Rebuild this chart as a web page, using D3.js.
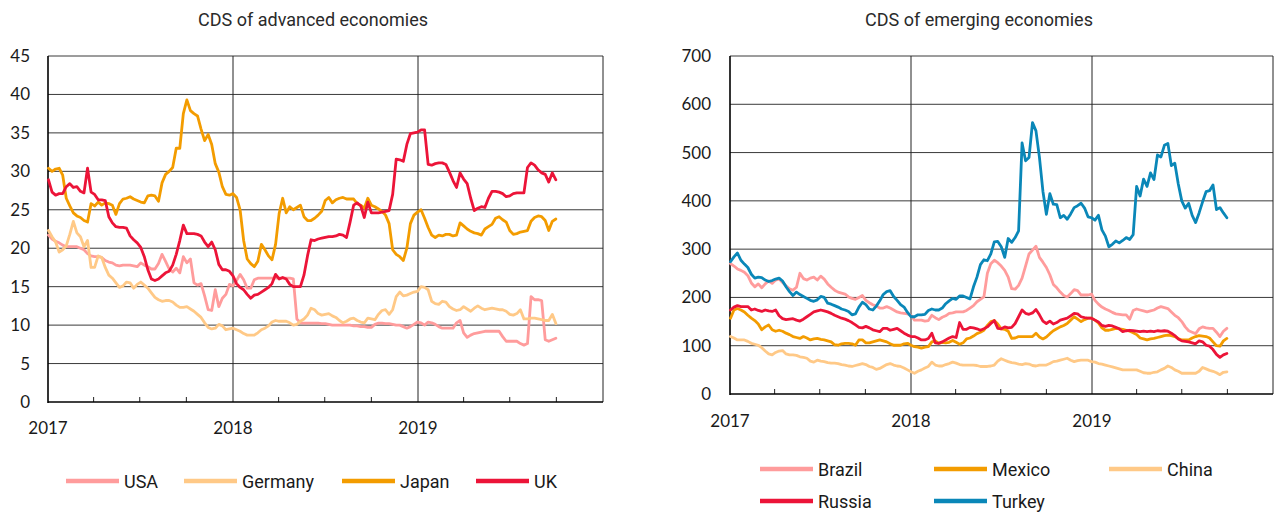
<!DOCTYPE html>
<html lang="en">
<head>
<meta charset="UTF-8">
<title>CDS of advanced and emerging economies</title>
<script src="https://d3js.org/d3.v7.min.js"></script>
<style>
  body { margin: 0; background: #fff; }
  text { fill: #1a1a1a; }
  .title { font-family: Roboto, "Open Sans", sans-serif; font-size: 18px; fill: #2a2a2a; }
  .tick-label { font-family: Lato, "Open Sans", sans-serif; font-size: 17px; }
  .legend { font-family: Roboto, "Open Sans", sans-serif; font-size: 18px; }
</style>
</head>
<body>
<svg id="main" width="1274" height="514"></svg>
<script>
// weekly observations (Mondays), 2 Jan 2017 .. 30 Sep 2019
const dates = d3.range(144).map(k => d3.timeDay.offset(new Date(2017, 0, 2), 7 * k));

// advanced economies (bp)
const usa = [
  21.7,21.2,20.9,20.7,20.4,20.2,20.2,20.2,20.2,20.0,
  19.8,19.3,19.0,18.9,18.9,18.8,18.4,18.2,18.1,17.8,
  17.7,17.8,17.8,17.8,17.7,17.6,18.1,17.8,17.6,17.3,
  17.3,18.0,19.2,18.3,17.3,16.9,17.4,16.8,18.9,18.1,
  18.6,15.5,15.2,15.4,13.8,12.0,11.9,14.6,12.4,13.5,
  14.0,15.3,15.1,15.8,16.6,15.9,14.8,14.8,15.9,16.1,
  16.1,16.1,16.1,16.1,16.1,16.1,16.1,16.1,16.1,16.0,
  10.8,10.3,10.25,10.25,10.25,10.25,10.25,10.2,10.2,10.1,
  10.0,10.0,10.0,10.0,10.0,10.0,9.9,9.9,9.8,9.8,
  9.7,9.7,10.1,10.25,10.25,10.2,10.2,10.1,10.0,10.0,
  9.8,9.6,9.8,10.1,10.4,10.3,10.0,10.4,10.3,10.1,
  9.8,9.6,9.6,9.6,9.6,10.3,10.6,9.0,8.4,8.7,
  8.9,9.0,9.1,9.2,9.2,9.2,9.2,9.2,8.5,7.9,
  7.9,7.9,7.9,7.6,7.4,7.6,13.7,13.3,13.3,13.2,
  8.1,7.9,8.1,8.3];
const germany = [
  22.3,21.5,20.8,19.5,19.8,20.3,21.8,23.5,22.0,21.5,
  20.2,21.0,17.5,17.5,19.0,18.8,17.5,16.5,16.1,15.5,
  14.9,15.1,15.6,15.5,14.8,15.3,15.6,15.2,14.8,14.2,
  13.6,13.3,13.1,13.2,13.2,13.0,12.6,12.3,12.3,12.4,
  12.1,11.8,11.4,11.0,10.3,9.7,9.5,9.6,10.1,9.9,
  9.4,9.5,9.6,9.4,9.2,8.9,8.7,8.7,8.7,9.0,
  9.4,9.6,9.9,10.4,10.6,10.5,10.5,10.5,10.3,10.0,
  10.1,10.5,10.8,11.3,12.2,12.0,11.5,11.3,11.4,11.5,
  11.2,11.0,10.6,10.3,10.5,10.8,10.9,10.6,10.4,10.3,
  10.9,10.8,10.7,11.4,11.9,12.0,11.4,12.0,13.7,14.3,
  13.8,13.9,14.1,14.3,14.4,15.0,14.9,14.6,13.1,12.8,
  12.7,13.1,13.0,12.4,12.1,11.9,12.0,12.4,12.1,11.8,
  12.2,12.5,12.2,12.0,12.1,12.2,12.1,12.0,12.0,11.8,
  11.4,11.3,11.5,12.0,10.8,10.8,10.9,10.9,10.8,10.7,
  10.6,10.6,11.4,10.2];
const japan = [
  30.4,30.0,30.3,30.4,29.5,26.5,25.5,24.6,24.2,24.0,
  23.6,23.4,25.8,25.5,26.0,25.6,25.9,25.8,25.6,24.4,
  25.8,26.4,26.5,26.7,26.4,26.2,26.0,25.9,26.8,26.9,
  26.8,26.1,28.5,29.6,30.0,30.5,33.0,33.0,37.5,39.3,
  37.9,37.5,37.2,35.5,34.0,34.8,33.5,31.0,29.9,28.0,
  27.0,26.9,27.1,26.6,25.0,21.0,18.6,18.0,17.6,18.3,
  20.5,19.8,19.0,18.5,20.5,24.5,26.5,24.6,25.4,25.0,
  25.3,25.6,24.1,23.6,23.6,23.9,24.3,24.8,26.2,26.6,
  25.9,26.3,26.5,26.6,26.4,26.4,26.4,25.8,25.6,25.2,
  26.5,25.6,25.4,25.1,24.8,24.3,23.2,19.8,19.2,18.9,
  18.4,20.0,23.2,24.3,24.7,25.0,23.9,22.7,21.7,21.4,
  21.7,21.6,21.8,21.8,21.6,21.7,23.3,22.9,22.5,22.2,
  22.0,21.9,21.7,22.5,22.8,23.1,23.9,24.1,23.7,23.4,
  22.3,21.8,21.9,22.1,22.2,22.3,23.5,24.0,24.2,24.1,
  23.6,22.3,23.5,23.8];
const uk = [
  28.9,27.3,26.9,27.1,27.1,28.0,28.4,27.9,28.0,27.4,
  27.2,30.4,27.3,27.0,26.3,26.3,26.2,24.1,23.3,22.8,
  22.7,22.7,22.6,21.6,21.1,20.7,20.1,18.9,17.2,16.0,
  15.8,16.0,16.4,16.8,17.0,17.8,19.2,21.0,23.0,21.9,
  21.9,21.9,21.8,21.6,20.8,20.2,20.8,19.8,17.9,17.2,
  17.2,17.0,16.4,15.4,14.9,14.6,14.0,13.5,13.9,14.0,
  14.3,14.6,14.9,15.4,16.6,16.0,16.2,16.0,15.3,15.0,
  15.0,15.0,16.5,19.0,21.1,21.0,21.2,21.3,21.4,21.5,
  21.5,21.6,21.8,21.7,21.4,23.4,25.6,25.9,25.5,24.0,
  26.0,24.6,24.6,24.6,24.7,24.8,24.9,27.0,31.6,31.5,
  31.3,33.5,34.9,35.0,35.1,35.4,35.4,30.9,30.8,31.0,
  31.1,31.1,30.9,29.9,28.8,27.9,29.8,29.0,28.4,26.5,
  24.9,25.2,25.4,25.3,26.5,27.4,27.4,27.3,27.1,26.7,
  26.8,27.1,27.2,27.2,27.2,30.5,31.1,30.8,30.2,29.8,
  29.6,28.6,29.8,28.9];

// emerging economies (bp)
const brazil = [
  270,265,259,256,252,245,230,222,228,220,
  228,234,229,236,238,231,224,218,215,221,
  250,239,236,240,242,236,244,238,228,221,
  215,211,209,207,201,198,196,200,204,194,
  189,185,182,178,178,181,178,174,170,168,
  167,166,163,153,153,153,151,152,163,158,
  154,159,162,167,168,170,170,170,173,178,
  183,191,196,201,250,270,277,272,265,256,
  242,218,217,225,240,265,290,298,306,283,
  273,262,247,227,220,211,204,201,208,216,
  214,205,205,205,207,194,186,180,176,173,
  169,166,165,164,164,155,173,176,174,172,
  170,172,174,178,181,179,177,170,163,158,
  150,139,131,128,125,135,139,137,136,136,
  128,119,130,136];
const mexico = [
  157,174,177,174,170,163,157,152,145,133,
  139,143,133,130,132,130,126,123,119,117,
  115,119,116,112,114,115,113,112,110,108,
  102,101,104,105,105,104,101,112,112,106,
  106,108,110,112,110,108,104,101,101,101,
  104,105,101,98,97,95,97,98,108,110,
  105,107,106,107,111,107,103,106,114,116,
  120,125,128,132,142,150,152,145,135,134,
  130,115,116,119,119,119,119,119,126,118,
  114,118,125,131,135,139,142,146,153,160,
  155,150,154,157,157,153,147,137,132,132,
  134,136,135,134,132,130,127,123,116,114,
  112,114,115,117,119,121,122,121,119,115,
  112,112,112,116,119,121,120,119,116,108,
  100,99,110,115];
const china = [
  119,116,112,112,112,109,105,103,101,96,
  89,83,81,86,89,90,83,81,81,80,
  77,76,74,68,66,70,68,67,65,64,
  64,63,61,60,58,57,59,61,63,61,
  57,55,51,53,57,61,63,60,58,57,
  54,50,46,43,47,50,54,57,66,60,
  58,58,61,63,66,64,61,60,60,60,
  60,59,57,57,57,58,60,68,73,70,
  67,65,64,62,61,63,62,59,58,60,
  60,60,63,67,68,70,72,74,70,67,
  69,70,70,70,67,66,63,62,60,58,
  56,54,52,50,50,50,50,50,47,44,
  43,43,45,46,50,53,58,55,50,47,
  43,43,43,43,43,47,55,52,49,47,
  44,40,45,46];
const russia = [
  174,180,183,181,181,181,174,176,173,171,
  174,172,171,174,162,156,154,155,156,153,
  151,155,160,165,170,172,174,172,170,167,
  163,160,157,155,152,148,143,138,137,140,
  137,133,131,129,136,136,132,134,136,131,
  126,122,119,119,116,112,112,115,126,106,
  105,108,112,116,119,117,148,134,134,138,
  137,135,132,135,139,146,152,136,135,139,
  137,138,146,160,174,167,165,168,175,164,
  151,146,151,145,148,153,155,157,162,167,
  166,160,158,157,157,153,149,142,140,142,
  141,138,135,129,131,132,131,130,129,130,
  129,130,129,131,130,131,130,126,121,114,
  110,109,108,106,104,110,108,101,99,92,
  82,76,81,84];
const turkey = [
  274,284,292,277,269,262,248,240,242,241,
  236,233,235,238,240,234,222,212,204,211,
  206,202,198,194,192,195,202,200,188,186,
  183,180,176,174,171,164,166,180,190,185,
  176,174,182,193,206,212,214,202,194,185,
  180,169,160,160,164,164,165,173,176,174,
  174,178,187,193,198,196,203,203,200,197,
  222,242,268,278,276,290,315,316,305,283,
  322,314,324,338,520,483,490,562,545,490,
  420,372,415,393,392,365,370,362,373,386,
  390,395,385,367,365,360,370,340,327,305,
  310,317,313,318,324,320,330,430,410,445,
  430,458,444,495,491,515,519,473,478,435,
  400,385,395,370,355,375,398,419,421,433,
  382,386,375,365];

const yearLabels = ['2017', '2018', '2019'];

const colPink = '#ff9c9c', colLight = '#ffc987', colOrange = '#f39c00', colRed = '#ec1438', colBlue = '#0a87b8';

const svg = d3.select('svg#main');

function drawPanel(p) {
  const g = svg.append('g');
  const x = d3.scaleTime().domain([new Date(2017, 0, 1), new Date(2020, 0, 1)]).range([p.x0, p.x1]);
  const y = d3.scaleLinear().domain([0, p.yMax]).range([p.y1, p.y0]);
  const yTicks = d3.range(0, p.yMax + 1, p.yStep);

  // horizontal grid (top one is the frame)
  g.selectAll('line.h').data(yTicks.filter(v => v > 0)).join('line')
    .attr('x1', p.x0).attr('x2', p.x1)
    .attr('y1', d => y(d)).attr('y2', d => y(d))
    .attr('stroke', '#3a3a3a').attr('stroke-width', 1);

  // vertical year lines + right frame
  const years = x.ticks(d3.timeYear.every(1));
  g.selectAll('line.v').data(years.slice(1)).join('line')
    .attr('x1', d => x(d)).attr('x2', d => x(d))
    .attr('y1', p.y0).attr('y2', p.y1)
    .attr('stroke', '#222').attr('stroke-width', 1);

  // quarter ticks
  const quarters = d3.timeMonth.range(new Date(2017, 3, 1), new Date(2019, 10, 1), 3)
    .filter(d => d.getMonth() !== 0);
  g.selectAll('line.q').data(quarters).join('line')
    .attr('x1', d => x(d)).attr('x2', d => x(d))
    .attr('y1', p.y1).attr('y2', p.y1 - 5)
    .attr('stroke', '#222').attr('stroke-width', 1);

  // axes lines
  g.append('line').attr('x1', p.x0).attr('x2', p.x0).attr('y1', p.y0).attr('y2', p.y1 + 1)
    .attr('stroke', '#000').attr('stroke-width', 1.6);
  g.append('line').attr('x1', p.x0).attr('x2', p.x1).attr('y1', p.y1).attr('y2', p.y1)
    .attr('stroke', '#000').attr('stroke-width', 1.6);

  // y labels
  g.selectAll('text.yl').data(yTicks).join('text')
    .attr('class', 'tick-label')
    .attr('x', p.labelX).attr('y', d => y(d) + 6)
    .attr('text-anchor', 'end')
    .text(d => d);

  // year labels
  g.selectAll('text.xl').data(years.slice(0, 3)).join('text')
    .attr('class', 'tick-label')
    .attr('x', d => x(d)).attr('y', p.yearY)
    .attr('text-anchor', 'middle')
    .text((d, i) => yearLabels[i]);

  // title
  g.append('text').attr('class', 'title')
    .attr('x', p.titleX).attr('y', 26).attr('text-anchor', 'middle')
    .text(p.title);

  // series
  const line = d3.line().x((d, i) => x(dates[i])).y(d => y(d));
  p.series.forEach(s => {
    g.append('path').datum(s.values)
      .attr('d', line)
      .attr('fill', 'none')
      .attr('stroke', s.color)
      .attr('stroke-width', 2.8)
      .attr('stroke-linejoin', 'round')
      .attr('stroke-linecap', 'round');
  });

  // legend
  p.legend.forEach(l => {
    g.append('line').attr('x1', l.x).attr('x2', l.x + 53).attr('y1', l.y).attr('y2', l.y)
      .attr('stroke', l.color).attr('stroke-width', 4.5);
    g.append('text').attr('class', 'legend')
      .attr('x', l.x + 58).attr('y', l.y + 6.5)
      .text(l.name);
  });
}

drawPanel({
  x0: 48, x1: 603, y0: 56, y1: 402, yMax: 45, yStep: 5, labelX: 30, yearY: 434,
  title: 'CDS of advanced economies', titleX: 313,
  series: [
    { values: usa, color: colPink },
    { values: germany, color: colLight },
    { values: japan, color: colOrange },
    { values: uk, color: colRed }
  ],
  legend: [
    { name: 'USA', color: colPink, x: 66, y: 481 },
    { name: 'Germany', color: colLight, x: 184, y: 481 },
    { name: 'Japan', color: colOrange, x: 342, y: 481 },
    { name: 'UK', color: colRed, x: 476, y: 481 }
  ]
});

drawPanel({
  x0: 730, x1: 1273, y0: 56, y1: 394, yMax: 700, yStep: 100, labelX: 711, yearY: 427,
  title: 'CDS of emerging economies', titleX: 979,
  series: [
    { values: brazil, color: colPink },
    { values: mexico, color: colOrange },
    { values: china, color: colLight },
    { values: russia, color: colRed },
    { values: turkey, color: colBlue }
  ],
  legend: [
    { name: 'Brazil', color: colPink, x: 760, y: 469 },
    { name: 'Mexico', color: colOrange, x: 934, y: 469 },
    { name: 'China', color: colLight, x: 1109, y: 469 },
    { name: 'Russia', color: colRed, x: 760, y: 501 },
    { name: 'Turkey', color: colBlue, x: 934, y: 501 }
  ]
});
</script>
</body>
</html>
